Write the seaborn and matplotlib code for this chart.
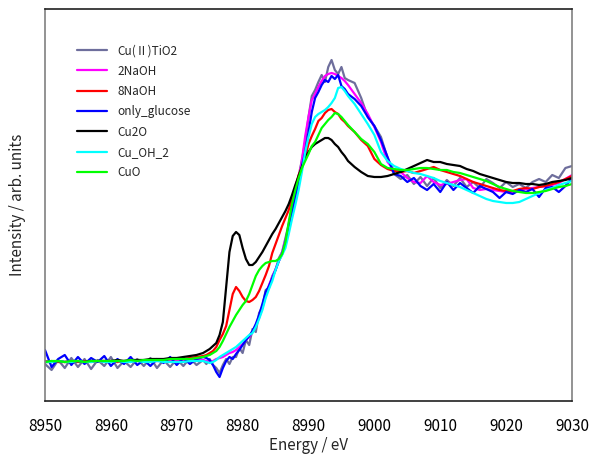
import matplotlib
matplotlib.use("Agg")
import matplotlib.pyplot as plt
import seaborn as sns
import pandas as pd

energy = [
    8950, 8951, 8952, 8953, 8954, 8955, 8956, 8957, 8958, 8959,
    8960, 8961, 8962, 8963, 8964, 8965, 8966, 8967, 8968, 8969,
    8970, 8971, 8972, 8973, 8974,
    8974.5, 8975, 8975.5, 8976, 8976.5, 8977, 8977.5, 8978, 8978.5, 8979,
    8979.5, 8980, 8980.5, 8981, 8981.5, 8982, 8982.5, 8983, 8983.5, 8984,
    8984.5, 8985, 8985.5, 8986, 8986.5, 8987, 8987.5, 8988, 8988.5, 8989,
    8989.5, 8990, 8990.5, 8991, 8991.5, 8992, 8992.5, 8993, 8993.5, 8994,
    8994.5, 8995, 8995.5, 8996,
    8997, 8998, 8999, 9000, 9001, 9002, 9003, 9004, 9005, 9006,
    9007, 9008, 9009, 9010, 9011, 9012, 9013, 9014, 9015, 9016,
    9017, 9018, 9019, 9020, 9021, 9022, 9023, 9024, 9025, 9026,
    9027, 9028, 9029, 9030,
]

cu2_tio2 = [
    -0.02, -0.08, 0.02, -0.06, 0.04, -0.05, 0.03, -0.07, 0.02, -0.04,
    0.05, -0.06, 0.01, -0.05, 0.03, -0.04, 0.04, -0.06, 0.02, -0.05,
    0.03, -0.04, 0.04, -0.03, 0.02,
    -0.02, 0.03, -0.03, -0.06, -0.11, -0.03, 0.03, -0.02, 0.05, 0.05,
    0.14, 0.09, 0.22, 0.17, 0.33, 0.30, 0.49, 0.55, 0.72, 0.74,
    0.86, 0.92, 1.04, 1.10, 1.24, 1.38, 1.55, 1.70, 1.86, 2.02,
    2.20, 2.45, 2.66, 2.72, 2.80, 2.87, 2.80, 2.95, 3.02, 2.92,
    2.88, 2.95, 2.84, 2.82,
    2.79, 2.64, 2.45, 2.36, 2.25, 2.04, 1.88, 1.83, 1.87, 1.78,
    1.85, 1.76, 1.84, 1.74, 1.82, 1.76, 1.84, 1.75, 1.80, 1.74,
    1.83, 1.79, 1.74, 1.80, 1.75, 1.78, 1.74, 1.80, 1.83, 1.80,
    1.87, 1.84, 1.94, 1.96,
]

naoh2 = [
    0.01, 0.00, 0.01, 0.00, 0.01, 0.00, 0.01, 0.00, 0.01, 0.00,
    0.01, 0.00, 0.01, 0.00, 0.01, 0.01, 0.00, 0.01, 0.01, 0.01,
    0.02, 0.01, 0.02, 0.02, 0.02,
    0.01, 0.00, 0.01, 0.03, 0.04, 0.05, 0.07, 0.09, 0.10, 0.12,
    0.15, 0.18, 0.22, 0.25, 0.30, 0.37, 0.44, 0.54, 0.66, 0.77,
    0.85, 0.93, 1.01, 1.10, 1.22, 1.36, 1.48, 1.62, 1.82, 2.02,
    2.26, 2.45, 2.62, 2.68, 2.75, 2.81, 2.86, 2.88, 2.89, 2.88,
    2.86, 2.84, 2.81, 2.77,
    2.68, 2.59, 2.48, 2.35, 2.20, 2.00, 1.92, 1.90, 1.84, 1.80,
    1.79, 1.86, 1.80, 1.77, 1.78, 1.80, 1.82, 1.83, 1.74, 1.72,
    1.73, 1.72, 1.71, 1.70, 1.70, 1.71, 1.73, 1.74, 1.75, 1.76,
    1.77, 1.79, 1.83, 1.87,
]

naoh8 = [
    0.00, 0.01, 0.00, 0.00, 0.01, 0.00, 0.01, 0.00, 0.01, 0.01,
    0.01, 0.00, 0.01, 0.01, 0.02, 0.01, 0.02, 0.02, 0.02, 0.03,
    0.03, 0.03, 0.04, 0.05, 0.06,
    0.07, 0.09, 0.11, 0.15, 0.22, 0.28, 0.36, 0.52, 0.68, 0.75,
    0.71, 0.65, 0.61, 0.60, 0.62, 0.65, 0.71, 0.79, 0.87, 0.96,
    1.09, 1.18, 1.27, 1.36, 1.44, 1.52, 1.63, 1.75, 1.87, 1.95,
    2.05, 2.18, 2.26, 2.33, 2.41, 2.44, 2.49, 2.52, 2.53, 2.50,
    2.48, 2.43, 2.40, 2.36,
    2.30, 2.22, 2.16, 2.03, 1.97, 1.93, 1.91, 1.90, 1.91, 1.89,
    1.91, 1.93, 1.95, 1.92, 1.90, 1.88, 1.86, 1.83, 1.80, 1.78,
    1.76, 1.74, 1.72, 1.71, 1.71, 1.73, 1.74, 1.73, 1.75, 1.76,
    1.78, 1.80, 1.83, 1.86,
]

only_glucose = [
    0.12, -0.05, 0.03, 0.07, -0.03, 0.05, -0.02, 0.04, 0.00, 0.06,
    -0.04, 0.03, -0.02, 0.05, -0.03, 0.02, -0.04, 0.03, -0.01, 0.05,
    -0.03, 0.04, -0.02, 0.03, 0.05,
    0.04, 0.02, -0.03, -0.10, -0.15, -0.06, 0.01, 0.05, 0.03, 0.08,
    0.12, 0.17, 0.22, 0.26, 0.31, 0.38, 0.47, 0.58, 0.70, 0.76,
    0.84, 0.92, 1.01, 1.08, 1.20, 1.36, 1.50, 1.66, 1.80, 1.96,
    2.10, 2.30, 2.50, 2.64, 2.70, 2.77, 2.82, 2.80, 2.86, 2.83,
    2.87, 2.76, 2.73, 2.68,
    2.63, 2.56, 2.45, 2.36, 2.22, 2.05, 1.88, 1.86, 1.80, 1.84,
    1.76, 1.72, 1.78, 1.70, 1.80, 1.72, 1.79, 1.74, 1.69, 1.76,
    1.73, 1.70, 1.64, 1.70, 1.68, 1.72, 1.70, 1.73, 1.65, 1.74,
    1.75, 1.70, 1.76, 1.84,
]

cu2o = [
    0.00, 0.00, 0.01, 0.00, 0.00, 0.01, 0.00, 0.01, 0.01, 0.01,
    0.01, 0.02, 0.01, 0.02, 0.02, 0.02, 0.03, 0.03, 0.03, 0.04,
    0.04, 0.05, 0.06, 0.07, 0.09,
    0.11, 0.13, 0.16, 0.19, 0.27, 0.40, 0.75, 1.10, 1.26, 1.30,
    1.27, 1.14, 1.03, 0.97, 0.97, 1.00, 1.05, 1.10, 1.16, 1.22,
    1.28, 1.33, 1.39, 1.45, 1.51, 1.58, 1.67, 1.77, 1.86, 1.95,
    2.04, 2.10, 2.15, 2.18, 2.20, 2.22, 2.24, 2.24, 2.22, 2.18,
    2.15, 2.10, 2.06, 2.01,
    1.95, 1.90, 1.86, 1.85, 1.85, 1.86, 1.88, 1.90, 1.93, 1.96,
    1.99, 2.02, 2.00, 2.00, 1.98, 1.97, 1.96, 1.93, 1.91, 1.88,
    1.86, 1.84, 1.82, 1.80, 1.79, 1.79, 1.78, 1.78, 1.77, 1.78,
    1.80, 1.81, 1.82, 1.84,
]

cu_oh_2 = [
    0.00, 0.00, 0.01, 0.00, 0.00, 0.01, 0.00, 0.00, 0.01, 0.00,
    0.00, 0.01, 0.00, 0.00, 0.01, 0.00, 0.00, 0.01, 0.00, 0.00,
    0.00, 0.00, 0.01, 0.01, 0.01,
    0.00, -0.01, 0.00, 0.02, 0.05, 0.07, 0.09, 0.11, 0.13, 0.15,
    0.18, 0.21, 0.24, 0.27, 0.29, 0.35, 0.43, 0.52, 0.64, 0.73,
    0.81, 0.92, 1.01, 1.07, 1.14, 1.28, 1.43, 1.57, 1.72, 1.90,
    2.10, 2.25, 2.38, 2.45, 2.48, 2.50, 2.52, 2.55, 2.59, 2.64,
    2.74, 2.75, 2.71, 2.66,
    2.58, 2.48, 2.38, 2.27, 2.10, 2.01, 1.96, 1.93, 1.91, 1.89,
    1.88, 1.86, 1.84, 1.81, 1.79, 1.77, 1.75, 1.72, 1.69, 1.66,
    1.63, 1.61, 1.60, 1.59, 1.59, 1.60, 1.63, 1.66, 1.69, 1.72,
    1.74, 1.77, 1.79, 1.81,
]

cuo = [
    0.00, 0.01, 0.01, 0.00, 0.01, 0.01, 0.00, 0.01, 0.01, 0.01,
    0.01, 0.01, 0.01, 0.02, 0.01, 0.02, 0.02, 0.02, 0.02, 0.03,
    0.03, 0.03, 0.03, 0.04, 0.05,
    0.06, 0.07, 0.09, 0.11, 0.15, 0.21, 0.28, 0.35, 0.41, 0.47,
    0.52, 0.57, 0.61, 0.68, 0.77, 0.86, 0.92, 0.96, 0.99, 1.00,
    1.01, 1.01, 1.03, 1.08, 1.20, 1.40, 1.58, 1.72, 1.84, 1.94,
    2.01, 2.08, 2.16, 2.20, 2.27, 2.34, 2.38, 2.42, 2.45, 2.49,
    2.48, 2.45, 2.41, 2.37,
    2.30, 2.23, 2.18, 2.10, 1.98, 1.94, 1.93, 1.92, 1.92, 1.93,
    1.94, 1.94, 1.93, 1.92, 1.92, 1.90, 1.89, 1.87, 1.85, 1.83,
    1.81, 1.78, 1.75, 1.73, 1.71, 1.70, 1.69, 1.69, 1.70, 1.71,
    1.73, 1.75, 1.76, 1.78,
]

labels = ["Cu(Ⅱ)TiO2", "2NaOH", "8NaOH", "only_glucose", "Cu2O", "Cu_OH_2", "CuO"]
series = [cu2_tio2, naoh2, naoh8, only_glucose, cu2o, cu_oh_2, cuo]
colors = ["#6E6E9C", "#FF00FF", "#FF0000", "#0000FF", "#000000", "#00FFFF", "#00FF00"]
xticks = [8950, 8960, 8970, 8980, 8990, 9000, 9010, 9020, 9030]

frames = []
for lab, vals in zip(labels, series):
    frames.append(pd.DataFrame({"Energy": energy, "Intensity": vals, "Sample": lab}))
df = pd.concat(frames, ignore_index=True)

sns.set_style("white")
plt.rcParams["font.family"] = ["Noto Sans CJK JP", "DejaVu Sans"]

fig = plt.figure(figsize=(5.89, 4.54), dpi=100)
ax = fig.add_axes([45 / 589, 1 - 401 / 454, 527 / 589, 392 / 454])

sns.lineplot(data=df, x="Energy", y="Intensity", hue="Sample", hue_order=labels,
             palette=colors, sort=False, estimator=None, linewidth=1.6, ax=ax)

ax.set_xlim(8950, 9030)
ax.set_ylim(-0.39, 3.53)
ax.set_xticks(xticks)
ax.set_xticklabels([str(t) for t in xticks], fontsize=11)
ax.set_yticks([])
ax.tick_params(axis="x", direction="in", length=5, width=1, pad=12, colors="black")
ax.set_xlabel("Energy / eV", fontsize=11, labelpad=2)
ax.set_ylabel("Intensity / arb. units", fontsize=11, labelpad=14)

for side in ["left", "right"]:
    ax.spines[side].set_color("#808080")
    ax.spines[side].set_linewidth(1.2)
for side in ["top", "bottom"]:
    ax.spines[side].set_color("#202020")
    ax.spines[side].set_linewidth(1.2)

leg = ax.legend(loc="upper left", bbox_to_anchor=(0.061, 0.910), frameon=False,
                fontsize=8.5, handlelength=2.5, handletextpad=0.9,
                labelspacing=0.62, borderaxespad=0, borderpad=0)
for line in leg.get_lines():
    line.set_linewidth(1.6)

fig.savefig("out.png", dpi=100)
